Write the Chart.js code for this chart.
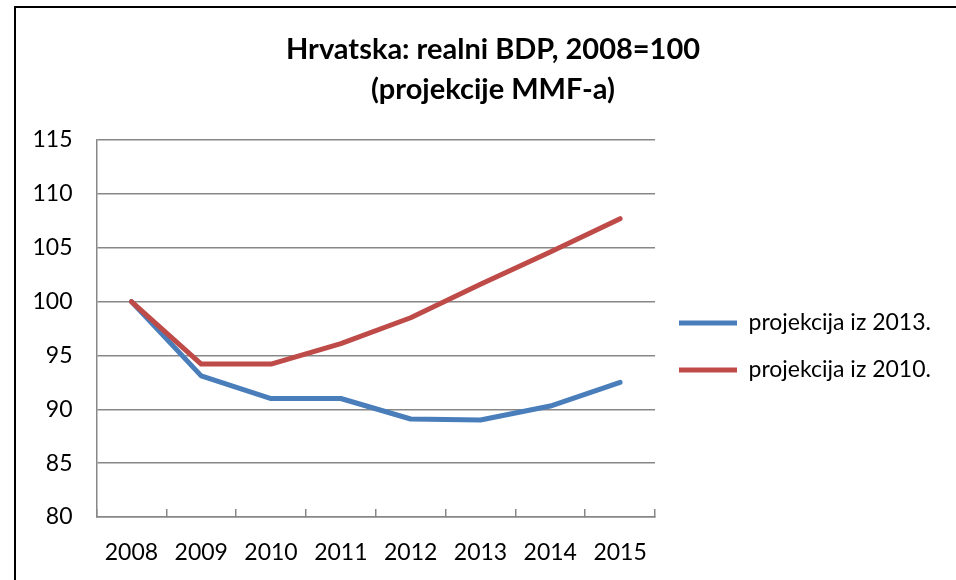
<!DOCTYPE html>
<html>
<head>
<meta charset="utf-8">
<script src="https://cdn.jsdelivr.net/npm/chart.js@4.4.1/dist/chart.umd.min.js"></script>
<style>
  body { margin: 0; background: #fff; }
  #frame { position: absolute; left: 14px; top: 6px; right: 0; bottom: 0;
           border-top: 2px solid #000; border-left: 2px solid #000; }
  #myChart { position: absolute; left: 0; top: 0; }
</style>
</head>
<body>
<div id="frame"></div>
<canvas id="myChart" width="956" height="580"></canvas>
<script>
// data
var years = ["2008", "2009", "2010", "2011", "2012", "2013", "2014", "2015"];
var proj2013 = [100, 93.1, 91.0, 91.0, 89.1, 89.0, 90.3, 92.5];
var proj2010 = [100, 94.2, 94.2, 96.1, 98.5, 101.6, 104.6, 107.7];
var seriesNames = ["projekcija iz 2013.", "projekcija iz 2010."];
var yMin = 80, yMax = 115, yStep = 5;

var gridColor = "#878787";
var fontName = "Lato";
var labelSize = 23;

// work out paddings so the plot sits where it should
var m = document.createElement("canvas").getContext("2d");
m.font = labelSize + "px " + fontName;
var tw = Math.max(m.measureText(seriesNames[0]).width, m.measureText(seriesNames[1]).width);
var plotLeft = 96.5, plotRight = 655;
var legPad = 24, lineLen = 58;
var padL = 20;
var padR = 956 - (plotRight + legPad + lineLen + labelSize / 2 + tw + 10);
var titleCenter = 493;

// move the title so it is centred like in the picture
var shiftTitle = {
  id: "shiftTitle",
  afterLayout: function (c) {
    var t = c.titleBlock;
    t.left = 2 * titleCenter - t.right;
  }
};

new Chart("myChart", {
  type: "line",
  data: {
    labels: years,
    datasets: [
      {
        label: seriesNames[0],
        data: proj2013,
        borderColor: "#4a7ebb",
        backgroundColor: "#4a7ebb",
        borderWidth: 5,
        borderCapStyle: "round",
        borderJoinStyle: "round",
        pointRadius: 0,
        tension: 0,
        order: 1
      },
      {
        label: seriesNames[1],
        data: proj2010,
        borderColor: "#be4b48",
        backgroundColor: "#be4b48",
        borderWidth: 5,
        borderCapStyle: "round",
        borderJoinStyle: "round",
        pointRadius: 0,
        tension: 0,
        order: 0
      }
    ]
  },
  plugins: [shiftTitle],
  options: {
    responsive: false,
    animation: false,
    devicePixelRatio: 1,
    layout: { padding: { top: 10, left: padL, right: padR, bottom: 15 } },
    plugins: {
      tooltip: { enabled: false },
      title: {
        display: true,
        text: ["Hrvatska: realni BDP, 2008=100", "(projekcije MMF-a)"],
        color: "#000",
        font: { family: fontName, size: 29, weight: "bold", lineHeight: 40 / 29 },
        padding: { top: 20, bottom: 30 }
      },
      legend: {
        position: "right",
        fullSize: false,
        maxWidth: 400,
        title: { display: true, text: "", font: { size: 12 }, padding: { top: 21.6, bottom: 0 } },
        labels: {
          usePointStyle: true,
          pointStyle: "line",
          pointStyleWidth: lineLen,
          padding: legPad,
          color: "#000",
          font: { family: fontName, size: labelSize },
          sort: function (a, b) { return a.datasetIndex - b.datasetIndex; }
        }
      }
    },
    scales: {
      x: {
        offset: true,
        afterFit: function (s) { s.height = 48; },
        grid: {
          offset: true,
          drawOnChartArea: false,
          drawTicks: true,
          tickLength: -8,
          color: gridColor,
          lineWidth: 1.5
        },
        border: { display: true, color: gridColor, width: 1.5 },
        ticks: { color: "#000", font: { family: fontName, size: labelSize }, padding: 30, maxRotation: 0 }
      },
      y: {
        min: yMin,
        max: yMax,
        afterFit: function (s) { s.width = plotLeft - padL; },
        grid: { color: gridColor, lineWidth: 1.5, drawTicks: false },
        border: { display: true, color: gridColor, width: 1.5 },
        ticks: { stepSize: yStep, color: "#000", font: { family: fontName, size: labelSize }, padding: 24 }
      }
    }
  }
});
</script>
</body>
</html>
